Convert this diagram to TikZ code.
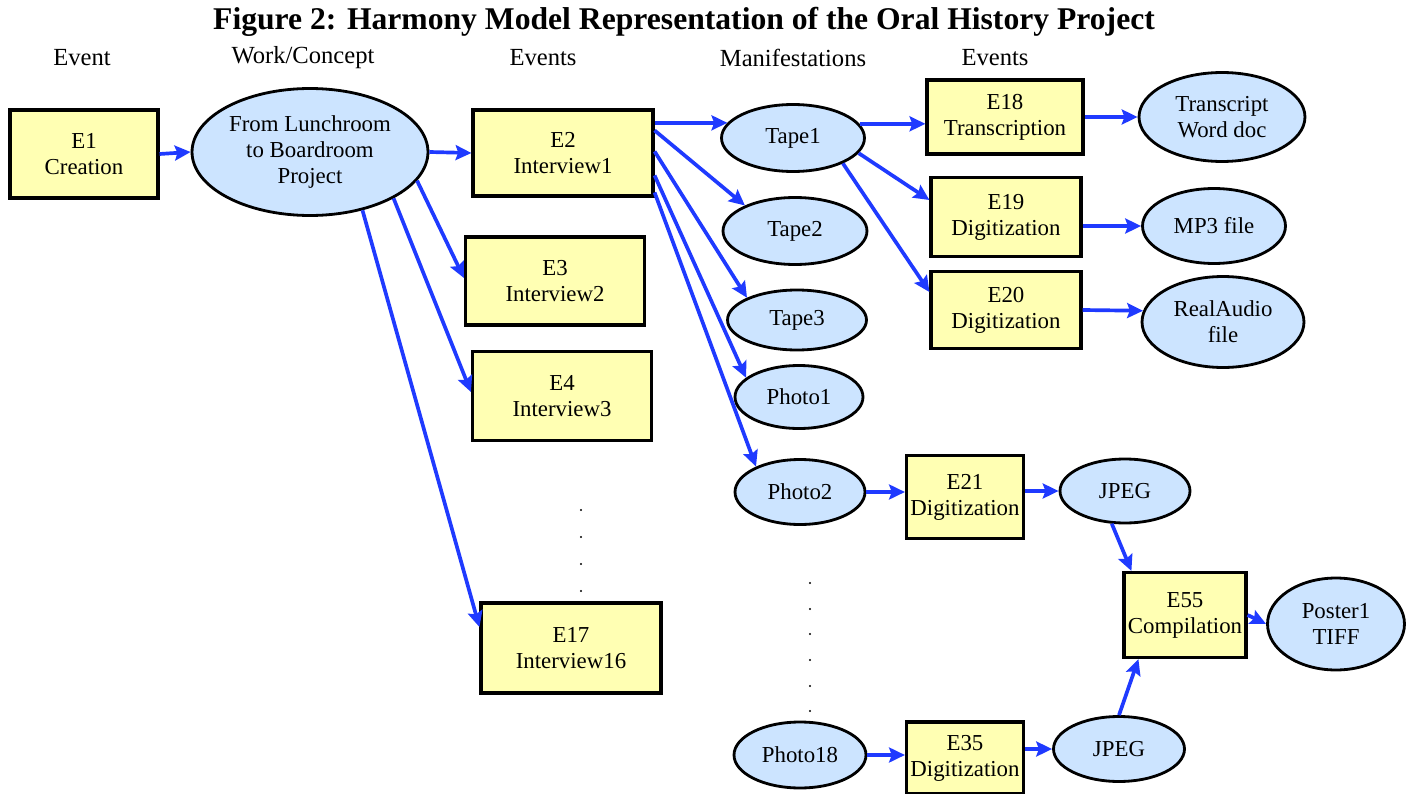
\documentclass[tikz,border=0pt]{standalone}
\usepackage{fontspec}
\setmainfont{Liberation Serif}
\usepackage{xcolor}
\usepackage{tikz}
\usetikzlibrary{shapes,arrows.meta}

\definecolor{boxyellow}{HTML}{FFFFB3}
\definecolor{ovalblue}{HTML}{CCE4FF}
\definecolor{arrowblue}{HTML}{1F3AFF}
\newcommand{\boxfont}{\rmfamily\fontsize{13}{14.8}\selectfont}

\begin{document}
\begin{tikzpicture}[x=0.02cm,y=-0.02cm]
    \tikzstyle{dedge} = [line width=2.1pt,-{Stealth[length=9pt,width=8.5pt,inset=1.5pt]},draw=arrowblue]
    \tikzstyle{eventbox} = [rectangle,draw=black,fill=boxyellow,line width=1.8pt,align=center,inner sep=1pt,font=\boxfont]
    \tikzstyle{manif} = [ellipse,draw=black,fill=ovalblue,line width=1.6pt,align=center,inner sep=0pt,font=\boxfont]
    \tikzstyle{header} = [font=\rmfamily\fontsize{14}{16}\selectfont]

    \useasboundingbox (0,0) rectangle (1407,794);

    \node[font=\bfseries\fontsize{18}{21}\selectfont] (title) at (684,22)
      {Figure 2: Harmony Model Representation of the Oral History Project};

    % column headers
    \node[header] (hevent)   at (82,58)  {Event};
    \node[header] (hwork)    at (303,58) {Work/Concept};
    \node[header] (hevents)  at (543,58) {Events};
    \node[header] (hmanif)   at (793,58) {Manifestations};
    \node[header] (hevents2) at (995,58) {Events};

    % work and interviews
    \node[eventbox,minimum width=2.96cm,minimum height=1.76cm] (e1) at (84,154) {E1\\Creation};
    \node[manif,minimum width=4.72cm,minimum height=2.54cm] (project) at (310,152)
      {From Lunchroom\\to Boardroom\\Project};
    \node[eventbox,minimum width=3.60cm,minimum height=1.72cm] (e2) at (563,153) {E2\\Interview1};
    \node[eventbox,minimum width=3.58cm,minimum height=1.76cm] (e3) at (555,281) {E3\\Interview2};
    \node[eventbox,minimum width=3.58cm,minimum height=1.78cm] (e4) at (562,396) {E4\\Interview3};
    \node[eventbox,minimum width=3.60cm,minimum height=1.80cm] (e17) at (571,648) {E17\\Interview16};

    % manifestations
    \node[manif,minimum width=2.86cm,minimum height=1.34cm] (tape1)   at (793,138) {Tape1};
    \node[manif,minimum width=2.88cm,minimum height=1.34cm] (tape2)   at (795,231) {Tape2};
    \node[manif,minimum width=2.78cm,minimum height=1.20cm] (tape3)   at (797,320) {Tape3};
    \node[manif,minimum width=2.56cm,minimum height=1.26cm] (photo1)  at (799,397) {Photo1};
    \node[manif,minimum width=2.60cm,minimum height=1.30cm] (photo2)  at (800,492) {Photo2};
    \node[manif,minimum width=2.64cm,minimum height=1.32cm] (photo18) at (800,755) {Photo18};

    % tape1 events
    \node[eventbox,minimum width=3.12cm,minimum height=1.48cm] (e18) at (1005,117) {E18\\Transcription};
    \node[eventbox,minimum width=3.00cm,minimum height=1.58cm] (e19) at (1006,217) {E19\\Digitization};
    \node[eventbox,minimum width=3.00cm,minimum height=1.54cm] (e20) at (1006,310) {E20\\Digitization};
    \node[manif,minimum width=3.32cm,minimum height=1.78cm] (transcript) at (1222,117) {Transcript\\Word doc};
    \node[manif,minimum width=2.86cm,minimum height=1.50cm] (mp3)        at (1214,226) {MP3 file};
    \node[manif,minimum width=3.24cm,minimum height=1.82cm] (realaudio)  at (1223,322) {RealAudio\\file};

    % photo events
    \node[eventbox,minimum width=2.34cm,minimum height=1.66cm] (e21) at (965,497) {E21\\Digitization};
    \node[eventbox,minimum width=2.34cm,minimum height=1.44cm] (e35) at (965,758) {E35\\Digitization};
    \node[manif,minimum width=2.60cm,minimum height=1.28cm] (jpega) at (1125,491) {JPEG};
    \node[manif,minimum width=2.62cm,minimum height=1.30cm] (jpegb) at (1119,749) {JPEG};
    \node[eventbox,minimum width=2.44cm,minimum height=1.70cm] (e55) at (1185,615) {E55\\Compilation};
    \node[manif,minimum width=2.74cm,minimum height=1.84cm] (poster) at (1336,624) {Poster1\\TIFF};

    % elided rows
    \foreach \yy in {510,537,564,591}
      \fill (581,\yy) circle (0.7pt);
    \foreach \yy in {583,609,634,660,686,711}
      \fill (810,\yy) circle (0.7pt);

    % e1 -> work -> interviews
    \draw[dedge] (e1.east) -- (project.west);
    \draw[dedge] (project.east) -- (e2.west);
    \draw[dedge] (project.-15) -- ([yshift=0.06cm]e3.west);
    \draw[dedge] (project.-29) -- ([yshift=0.08cm]e4.west);
    \draw[dedge] (project.-48) -- ([yshift=0.42cm]e17.west);

    % e2 -> manifestations
    \draw[dedge] (tape1.167 -| e2.east) -- (tape1.167);
    \draw[dedge] ([yshift=-0.44cm]e2.north east) -- (tape2.153);
    \draw[dedge] ([yshift=-0.86cm]e2.north east) -- (tape3.156);
    \draw[dedge] ([yshift=-1.34cm]e2.north east) -- (photo1.160);
    \draw[dedge] ([yshift=-1.68cm]e2.north east) -- (photo2.150);

    % tape1 -> events -> files
    \draw[dedge] (tape1.12) -- (tape1.12 -| e18.west);
    \draw[dedge] (tape1.-13) -- ([yshift=0.34cm]e19.west);
    \draw[dedge] (tape1.-27) -- ([yshift=0.36cm]e20.west);
    \draw[dedge] (e18.east) -- (transcript.west);
    \draw[dedge] (mp3.west -| e19.east) -- (mp3.west);
    \draw[dedge] (e20.east) -- (realaudio.172);

    % photos -> jpeg -> poster
    \draw[dedge] (photo2.east) -- (photo2.east -| e21.west);
    \draw[dedge] (jpega.west -| e21.east) -- (jpega.west);
    \draw[dedge] (photo18.east) -- (photo18.east -| e35.west);
    \draw[dedge] (jpegb.west -| e35.east) -- (jpegb.west);
    \draw[dedge] (jpega.-112) -- ([xshift=0.18cm]e55.north west);
    \draw[dedge] (jpegb.north) -- ([xshift=0.32cm]e55.south west);
    \draw[dedge] (e55.east) -- (poster.west);
\end{tikzpicture}
\end{document}
